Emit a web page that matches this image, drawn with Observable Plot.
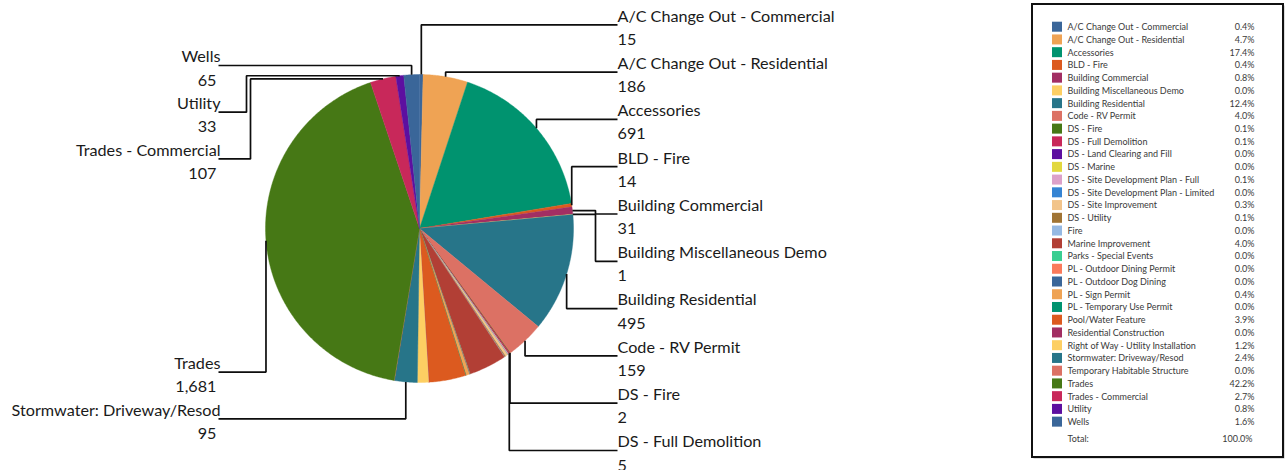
<!DOCTYPE html>
<html>
<head>
<meta charset="utf-8">
<script src="https://cdn.jsdelivr.net/npm/d3@7"></script>
<script src="https://cdn.jsdelivr.net/npm/@observablehq/plot@0.6"></script>
<style>
  html, body { margin: 0; padding: 0; background: #fff; overflow: hidden; }
  #chart svg { display: block; }
</style>
</head>
<body>
<div id="chart"></div>
<script>
// ---------- data ----------
const categories = [
  "A/C Change Out - Commercial", "A/C Change Out - Residential", "Accessories", "BLD - Fire",
  "Building Commercial", "Building Miscellaneous Demo", "Building Residential", "Code - RV Permit",
  "DS - Fire", "DS - Full Demolition", "DS - Land Clearing and Fill", "DS - Marine",
  "DS - Site Development Plan - Full", "DS - Site Development Plan - Limited", "DS - Site Improvement", "DS - Utility",
  "Fire", "Marine Improvement", "Parks - Special Events", "PL - Outdoor Dining Permit",
  "PL - Outdoor Dog Dining", "PL - Sign Permit", "PL - Temporary Use Permit", "Pool/Water Feature",
  "Residential Construction", "Right of Way - Utility Installation", "Stormwater: Driveway/Resod", "Temporary Habitable Structure",
  "Trades", "Trades - Commercial", "Utility", "Wells"
];
const counts = [
  15, 186, 691, 14,
  31, 1, 495, 159,
  2, 5, 1, 1,
  3, 1, 11, 4,
  1, 158, 1, 1,
  1, 15, 1, 154,
  1, 47, 95, 1,
  1681, 107, 33, 65
];
// slices that carry a data label in the original
const labeled = [
  "A/C Change Out - Commercial", "A/C Change Out - Residential", "Accessories", "BLD - Fire",
  "Building Commercial", "Building Miscellaneous Demo", "Building Residential", "Code - RV Permit",
  "DS - Fire", "DS - Full Demolition", "Stormwater: Driveway/Resod", "Trades",
  "Trades - Commercial", "Utility", "Wells"
];
const colors = [
  "#3A6699", "#EFA354", "#00936F", "#DC5A1F", "#A22E63", "#FDCF63", "#277589", "#DC7164",
  "#467815", "#C8285A", "#5D0FA0", "#E2D83E", "#DCA1C9", "#3584D3", "#F2C48A", "#A07434",
  "#95B9E3", "#B23F35", "#39CE91", "#FA7A5B", "#3A6699", "#EFA354", "#00936F", "#DC5A1F",
  "#A22E63", "#FDCF63", "#277589", "#DC7164", "#467815", "#C8285A", "#5D0FA0", "#3A6699"
];

// ---------- layout ----------
const W = 1288, H = 470;
const CX = 419, CY = 228, R = 154;
const FONT = "Lato, 'Open Sans', sans-serif";
const total = d3.sum(counts);
const fmtCount = d3.format(",");

const arcs = d3.pie().sort(null).value(d => d)(counts);

// pie slice polygons
const slicePts = [];
arcs.forEach((a, i) => {
  const name = categories[i];
  const n = Math.max(2, Math.ceil((a.endAngle - a.startAngle) / (Math.PI / 360)));
  slicePts.push({name, x: CX, y: CY});
  for (let k = 0; k <= n; k++) {
    const t = a.startAngle + (a.endAngle - a.startAngle) * k / n;
    slicePts.push({name, x: CX + R * Math.sin(t), y: CY - R * Math.cos(t)});
  }
  slicePts.push({name, x: CX, y: CY});
});

// data labels + leader lines
const RIGHT_X = 617, LEFT_X = 218;
const RIGHT_TOP = 16, LEFT_TOP = 56.7, LEFT_BOTTOM = 410, PITCH_R = 47.3, PITCH_L = 46.7, VAL_DY = 23.2, LINE_DY = 8.3;
const labelInfo = labeled.map(name => {
  const i = categories.indexOf(name);
  const a = arcs[i];
  const mid = (a.startAngle + a.endAngle) / 2;
  return {name, value: counts[i], mid, ax: CX + R * Math.sin(mid), ay: CY - R * Math.cos(mid), idx: i};
});
const right = labelInfo.filter(d => d.mid < Math.PI).sort((a, b) => a.mid - b.mid);
const leftTop = labelInfo.filter(d => d.mid >= 1.5 * Math.PI).sort((a, b) => b.mid - a.mid);
const leftBottom = labelInfo.filter(d => d.mid >= Math.PI && d.mid < 1.5 * Math.PI).sort((a, b) => a.mid - b.mid);
right.forEach((d, k) => { d.side = "right"; d.yName = RIGHT_TOP + k * PITCH_R; });
leftTop.forEach((d, k) => { d.side = "left"; d.k = k; d.yName = LEFT_TOP + k * PITCH_L; });
leftBottom.forEach((d, k) => { d.side = "left"; d.k = 0; d.yName = LEFT_BOTTOM - k * PITCH_L; });

const leaderPts = [];
for (const d of labelInfo) {
  const L = d.yName + LINE_DY;
  const pts = [];
  if (d.side === "right") {
    if (Math.abs(d.mid - Math.PI / 2) < 7 * Math.PI / 180) {
      const xv = RIGHT_X - 22;
      pts.push([RIGHT_X, L], [xv, L], [xv, d.ay], [d.ax, d.ay]);
    } else {
      pts.push([RIGHT_X, L], [d.ax, L], [d.ax, d.ay]);
    }
  } else {
    if (d.mid >= 1.5 * Math.PI && L > d.ay) {
      const xv = LEFT_X + 24 + 4 * d.k;
      pts.push([LEFT_X, L], [xv, L], [xv, d.ay], [d.ax, d.ay]);
    } else {
      pts.push([LEFT_X, L], [d.ax, L], [d.ax, d.ay]);
    }
  }
  pts.forEach(([x, y]) => leaderPts.push({name: d.name, x, y}));
}
const labelRows = labelInfo.map(d => ({
  name: d.name, valueText: fmtCount(d.value), side: d.side,
  x: d.side === "right" ? RIGHT_X : LEFT_X, y: d.yName
}));
const rightLabels = labelRows.filter(d => d.side === "right");
const leftLabels = labelRows.filter(d => d.side === "left");

// legend
const LG = {x1: 1032, x2: 1283, y1: 4, y2: 457, top: 26.7, pitch: 12.74, sw: 1052, tx: 1067, px: 1254};
const legendRows = categories.map((name, i) => ({
  name, pct: (counts[i] / total * 100).toFixed(1) + "%", y: LG.top + i * LG.pitch
}));
const totalRow = [{label: "Total:", pct: (d3.sum(counts) / total * 100).toFixed(1) + "%", y: LG.top + categories.length * LG.pitch + 3.8}];

const LABEL_FS = 16.2, TXT = "#1a1a1a", LTXT = "#3a3a3a";
const chart = Plot.plot({
  width: W, height: H,
  margin: 0,
  style: {fontFamily: FONT, background: "#fff", color: TXT},
  x: {domain: [0, W], axis: null},
  y: {domain: [H, 0], range: [H, 0], axis: null},
  color: {type: "ordinal", domain: categories, range: colors},
  marks: [
    // pie
    Plot.line(slicePts, {x: "x", y: "y", z: "name", fill: "name", stroke: "name", strokeWidth: 0.4, curve: "linear"}),
    // leader lines
    Plot.line(leaderPts, {x: "x", y: "y", z: "name", stroke: "#0d0d0d", strokeWidth: 1.7, curve: "linear", strokeLinejoin: "miter", strokeLinecap: "butt"}),
    // data labels, right side
    Plot.text(rightLabels, {x: "x", y: "y", text: "name", textAnchor: "start", fontSize: LABEL_FS, fill: TXT}),
    Plot.text(rightLabels, {x: "x", y: d => d.y + VAL_DY, text: "valueText", textAnchor: "start", fontSize: LABEL_FS, fill: TXT}),
    // data labels, left side
    Plot.text(leftLabels, {x: d => d.x + 2, y: "y", text: "name", textAnchor: "end", fontSize: LABEL_FS, fill: TXT}),
    Plot.text(leftLabels, {x: d => d.x - 2, y: d => d.y + VAL_DY, text: "valueText", textAnchor: "end", fontSize: LABEL_FS, fill: TXT}),
    // legend box
    Plot.rect([0], {x1: LG.x1 + 1.5, x2: LG.x2 + 1.5, y1: LG.y1 + 1.5, y2: LG.y2 + 1.5, fill: "#bbb"}),
    Plot.rect([0], {x1: LG.x1, x2: LG.x2, y1: LG.y1, y2: LG.y2, fill: "#fff", stroke: "#111", strokeWidth: 2}),
    Plot.rect(legendRows, {x1: LG.sw, x2: LG.sw + 10, y1: d => d.y - 5, y2: d => d.y + 5, fill: "name"}),
    Plot.text(legendRows, {x: LG.tx, y: "y", text: "name", textAnchor: "start", fontSize: 9, fill: LTXT}),
    Plot.text(legendRows, {x: LG.px, y: "y", text: "pct", textAnchor: "end", fontSize: 9, fill: LTXT}),
    Plot.text(totalRow, {x: LG.tx, y: "y", text: "label", textAnchor: "start", fontSize: 9, fill: LTXT}),
    Plot.text(totalRow, {x: LG.px - 2, y: "y", text: "pct", textAnchor: "end", fontSize: 9, fill: LTXT})
  ]
});
document.getElementById("chart").appendChild(chart);
</script>
</body>
</html>
